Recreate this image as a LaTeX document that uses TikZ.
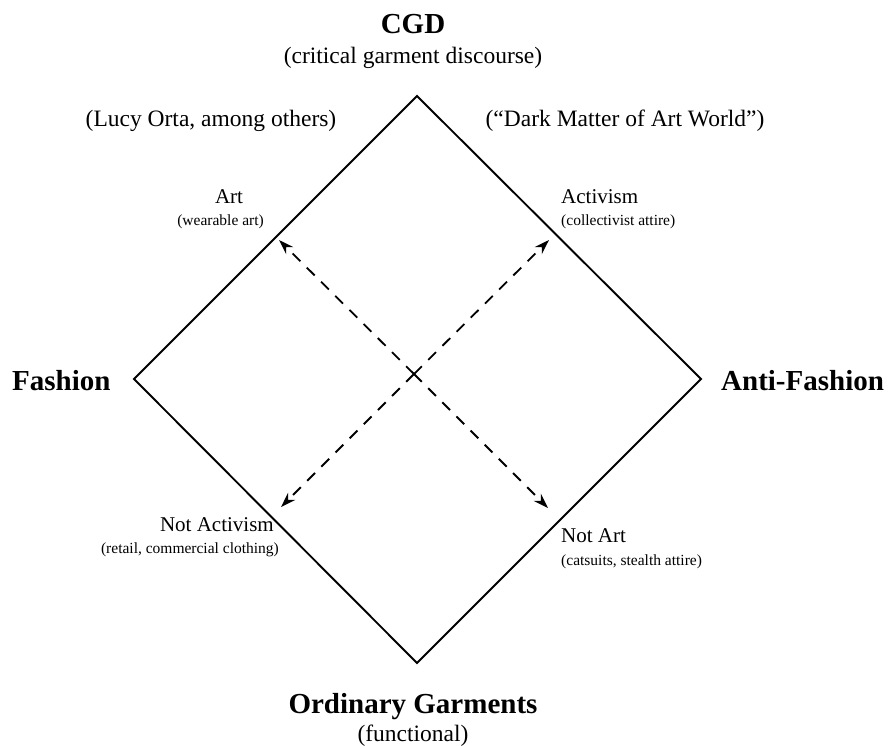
\documentclass[tikz,border=0pt]{standalone}
\usepackage{fontspec}
\setmainfont{Liberation Serif}
\usetikzlibrary{arrows.meta}
\tikzset{
  big/.style={font=\fontsize{29}{33}\selectfont\bfseries, inner sep=0pt},
  mid/.style={font=\fontsize{23.5}{27}\selectfont, inner sep=0pt},
  lab/.style={font=\fontsize{21}{24}\selectfont, inner sep=0pt},
  sml/.style={font=\fontsize{15.5}{18}\selectfont, inner sep=0pt},
  edge/.style={line width=1.9pt, line join=miter},
  arr/.style={line width=1.8pt, dash pattern=on 11pt off 9pt, -{Stealth[length=15pt,width=10pt]}}
}
\begin{document}
\begin{tikzpicture}[x=1pt,y=-1pt]
\useasboundingbox (0,0) rectangle (888,745);
% diamond
\coordinate (T) at (417,96);
\coordinate (R) at (701,379);
\coordinate (B) at (417,663);
\coordinate (L) at (134,379);
\draw[edge] (T) -- (R) -- (B) -- (L) -- cycle;
% arrows
\coordinate (C) at (414,374);
\coordinate (UL) at (279,240);
\coordinate (UR) at (549,240);
\coordinate (LL) at (281,507);
\coordinate (LR) at (548,508);
\draw[arr] (C) -- (UL);
\draw[arr] (C) -- (UR);
\draw[arr] (C) -- (LL);
\draw[arr] (C) -- (LR);
% top
\node[big, anchor=base] (cgd) at (413,33) {CGD};
\node[mid, anchor=base] (cgdsub) at (413,63) {(critical garment discourse)};
\node[mid, anchor=base] (lucy) at (211,126) {(Lucy Orta, among others)};
\node[mid, anchor=base] (dark) at (625,126) {(“Dark Matter of Art World”)};
% upper labels
\node[lab, anchor=base] (art) at (229,203) {Art};
\node[sml, anchor=base east] (artsub) at (264,225) {(wearable art)};
\node[lab, anchor=base west] (act) at (561,203) {Activism};
\node[sml, anchor=base west] (actsub) at (561,225) {(collectivist attire)};
% sides
\node[big, anchor=base west] (fash) at (12,390) {Fashion};
\node[big, anchor=base west] (anti) at (721,390) {Anti-Fashion};
% lower labels
\node[lab, anchor=base east] (nact) at (274,531) {Not Activism};
\node[sml, anchor=base east] (nactsub) at (279,553) {(retail, commercial clothing)};
\node[lab, anchor=base west] (nart) at (561,542) {Not Art};
\node[sml, anchor=base west] (nartsub) at (561,565) {(catsuits, stealth attire)};
% bottom
\node[big, anchor=base] (ord) at (413,713) {Ordinary Garments};
\node[mid, anchor=base] (func) at (413,741) {(functional)};
\end{tikzpicture}
\end{document}
